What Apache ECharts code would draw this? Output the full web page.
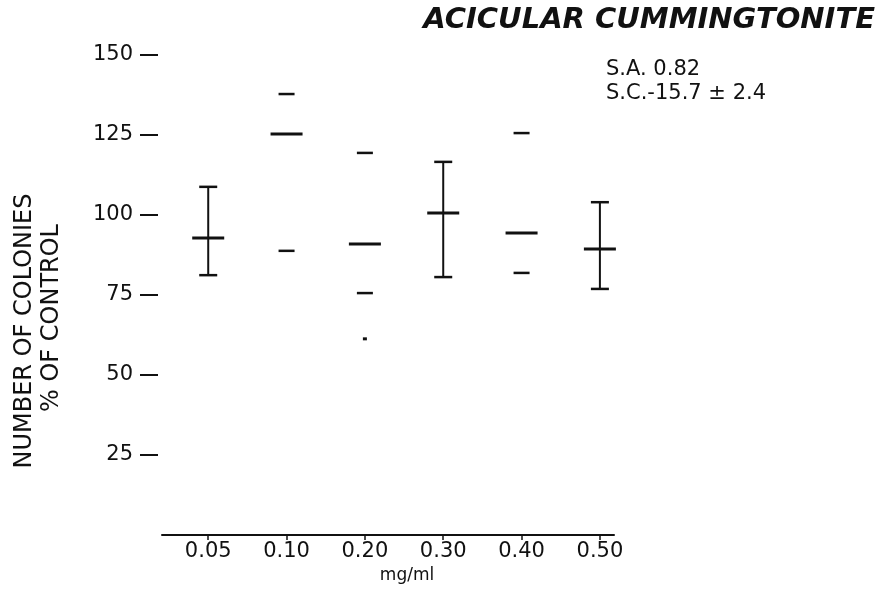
<!DOCTYPE html>
<html style="height: 100%">
<head>
    <meta charset="utf-8">
    <title>Acicular cummingtonite</title>
    <style>
    body { margin: 0; background: #fff; }
    #container { width: 878px; height: 590px; }
    </style>
</head>
<body>
<div id="container"></div>
<script type="text/javascript" src="https://cdn.jsdelivr.net/npm/echarts@6/dist/echarts.min.js"></script>
<script type="text/javascript">
// doses (mg/ml)
var categories = ['0.05', '0.10', '0.20', '0.30', '0.40', '0.50'];
// % of control
var means = [92.8, 125.3, 90.9, 100.6, 94.4, 89.4];
var lows  = [81.2, 88.8, 75.6, 80.6, 81.9, 76.9];
var highs = [108.8, 137.8, 119.4, 116.6, 125.6, 104.0];
// only some groups have the vertical bar drawn
var stems = [1, 0, 0, 1, 0, 1];
// stray extra reading under 0.20
var extraPoints = [[2, 61.3]];
var yTicks = [25, 50, 75, 100, 125, 150];

var FONT = 'DejaVu Sans';

var barData = categories.map(function (c, i) {
    return [i, means[i], lows[i], highs[i], stems[i]];
});

function renderBar(params, api) {
    var i = api.value(0);
    var c = api.coord([i, api.value(1)]);
    var lo = api.coord([i, api.value(2)]);
    var hi = api.coord([i, api.value(3)]);
    var stem = api.value(4);
    var cap = stem ? 9 : 8;
    var st = { stroke: '#111', lineWidth: 2.5, lineCap: 'butt' };
    var kids = [];
    if (stem) {
        kids.push({ type: 'line', shape: { x1: hi[0], y1: hi[1], x2: lo[0], y2: lo[1] }, style: { stroke: '#111', lineWidth: 2 } });
    }
    kids.push({ type: 'line', shape: { x1: hi[0] - cap, y1: hi[1], x2: hi[0] + cap, y2: hi[1] }, style: st });
    kids.push({ type: 'line', shape: { x1: lo[0] - cap, y1: lo[1], x2: lo[0] + cap, y2: lo[1] }, style: st });
    kids.push({ type: 'line', shape: { x1: c[0] - 16, y1: c[1], x2: c[0] + 16, y2: c[1] }, style: { stroke: '#111', lineWidth: 3 } });
    return { type: 'group', children: kids };
}

function renderDot(params, api) {
    var p = api.coord([api.value(0), api.value(1)]);
    return { type: 'line', shape: { x1: p[0] - 2, y1: p[1], x2: p[0] + 2, y2: p[1] }, style: { stroke: '#111', lineWidth: 3 } };
}

var myChart = echarts.init(document.getElementById('container'), null, { renderer: 'canvas' });

var option = {
    animation: false,
    backgroundColor: '#fff',
    title: [{
        text: 'ACICULAR CUMMINGTONITE',
        right: 3,
        top: 6,
        padding: 0,
        textStyle: { fontFamily: FONT, fontSize: 29, fontStyle: 'italic', fontWeight: 'bold', color: '#111' }
    }, {
        text: 'S.A. 0.82\nS.C.-15.7 ± 2.4',
        left: 606,
        top: 58,
        padding: 0,
        textStyle: { fontFamily: FONT, fontSize: 21, fontWeight: 'normal', lineHeight: 24, color: '#111' }
    }],
    graphic: [{
        type: 'text',
        x: 25, y: 331,
        rotation: Math.PI / 2,
        style: { text: 'NUMBER OF COLONIES', font: '24px "DejaVu Sans"', fill: '#111', align: 'center', verticalAlign: 'middle' }
    }, {
        type: 'text',
        x: 52, y: 318,
        rotation: Math.PI / 2,
        style: { text: '% OF CONTROL', font: '24px "DejaVu Sans"', fill: '#111', align: 'center', verticalAlign: 'middle' }
    }],
    grid: { left: 162, right: 264, top: 55, bottom: 55 },
    xAxis: {
        type: 'value',
        min: -0.59,
        max: 5.18,
        splitLine: { show: false },
        axisLine: { show: true, lineStyle: { color: '#111', width: 2 } },
        axisTick: { show: true, length: 5, lineStyle: { color: '#111', width: 1.5 }, customValues: [0, 1, 2, 3, 4, 5] },
        axisLabel: {
            customValues: [0, 1, 2, 3, 4, 5],
            margin: 6,
            fontFamily: FONT, fontSize: 21, color: '#111',
            formatter: function (v) { return categories[Math.round(v)]; }
        },
        name: 'mg/ml',
        nameLocation: 'middle',
        nameGap: 29,
        nameTextStyle: { fontFamily: FONT, fontSize: 17, color: '#111', padding: [0, 0, 0, 38] }
    },
    yAxis: {
        type: 'value',
        min: 0,
        max: 150,
        interval: 25,
        offset: 4,
        splitLine: { show: false },
        axisLine: { show: false, onZero: false },
        axisTick: { show: true, length: 18, lineStyle: { color: '#111', width: 2 }, customValues: yTicks },
        axisLabel: { customValues: yTicks, margin: 25, fontFamily: FONT, fontSize: 21, color: '#111' }
    },
    series: [{
        type: 'custom',
        renderItem: renderBar,
        encode: { x: 0, y: [1, 2, 3] },
        data: barData,
        silent: true
    }, {
        type: 'custom',
        renderItem: renderDot,
        encode: { x: 0, y: 1 },
        data: extraPoints,
        silent: true
    }]
};

myChart.setOption(option);
</script>
</body>
</html>
